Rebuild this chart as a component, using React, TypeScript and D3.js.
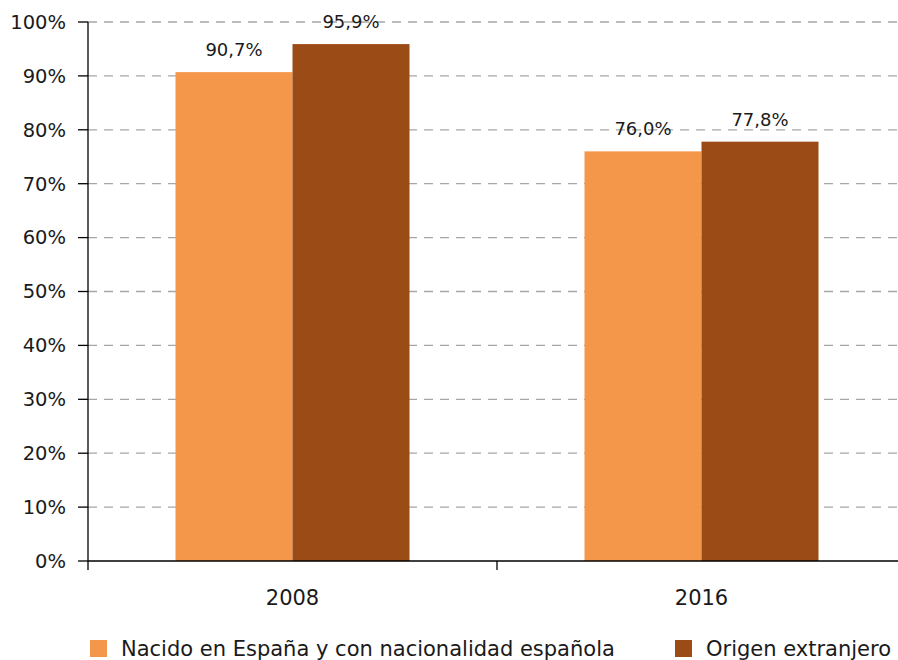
import React from "react";
import * as d3 from "d3";

const categories = ["2008", "2016"];
const seriesNames = ["Nacido en España y con nacionalidad española", "Origen extranjero"];
const nacidoEspana = [90.7, 76.0];
const origenExtranjero = [95.9, 77.8];
const yTicks = [0, 10, 20, 30, 40, 50, 60, 70, 80, 90, 100];
const colors = ["#F5974A", "#9A4B16"];

const W = 898, H = 660;
const left = 88, right = 906, top = 22, bottom = 561;
const FONT = "'DejaVu Sans', sans-serif";

export default function App() {
  const x = d3.scaleBand<string>().domain(categories).range([left, right]).paddingInner(0).paddingOuter(0);
  const inner = d3.scaleBand<number>().domain([0, 1]).range([0, 234]);
  const y = d3.scaleLinear().domain([0, 100]).range([bottom, top]);
  const series = [nacidoEspana, origenExtranjero];
  const fmt = (v: number) => v.toFixed(1).replace(".", ",") + "%";
  return (
    <svg width={W} height={H} style={{ position: "absolute", left: 0, top: 0 }} fontFamily={FONT}>
      {yTicks.map((t) => (
        <g key={t}>
          {t > 0 && (
            <line x1={left} x2={W} y1={y(t)} y2={y(t)} stroke="#A6A6A6" strokeWidth={1.3} strokeDasharray="9,7" />
          )}
          <line x1={left - 10} x2={left} y1={y(t)} y2={y(t)} stroke="#000" strokeWidth={1.3} />
          <text x={66} y={y(t)} dy="0.35em" textAnchor="end" fontSize={19.5} fill="#1a1a1a">{t}%</text>
        </g>
      ))}
      {categories.map((c, i) => {
        const bw = x.bandwidth();
        const gx = x(c)! + (bw - 234) / 2;
        return (
          <g key={c}>
            {series.map((s, j) => (
              <g key={j}>
                <rect x={gx + inner(j)!} y={y(s[i])} width={inner.bandwidth()} height={bottom - y(s[i])} fill={colors[j]} />
                <text x={gx + inner(j)! + inner.bandwidth() / 2} y={y(s[i]) - 16} textAnchor="middle" fontSize={18} fill="#1a1a1a">{fmt(s[i])}</text>
              </g>
            ))}
            <text x={x(c)! + bw / 2} y={605} textAnchor="middle" fontSize={21} fill="#1a1a1a">{c}</text>
          </g>
        );
      })}
      <line x1={left} x2={left} y1={top} y2={bottom + 9} stroke="#000" strokeWidth={1.3} />
      <line x1={left} x2={W} y1={bottom} y2={bottom} stroke="#000" strokeWidth={1.3} />
      {categories.slice(1).map((c) => (
        <line key={c} x1={x(c)!} x2={x(c)!} y1={bottom} y2={bottom + 9} stroke="#000" strokeWidth={1.3} />
      ))}
      {seriesNames.map((n, j) => {
        const lx = j === 0 ? 90 : 675;
        return (
          <g key={n}>
            <rect x={lx} y={640} width={17} height={17} fill={colors[j]} />
            <text x={lx + 31} y={656} fontSize={21} fill="#1a1a1a">{n}</text>
          </g>
        );
      })}
    </svg>
  );
}
